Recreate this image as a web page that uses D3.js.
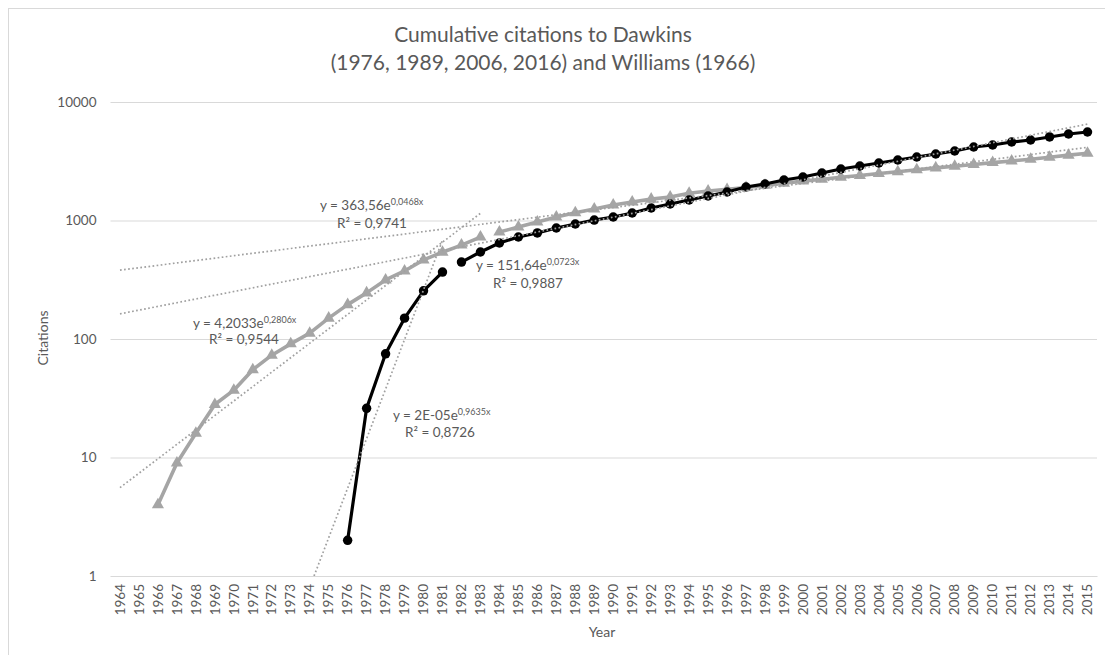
<!DOCTYPE html>
<html><head><meta charset="utf-8">
<script src="https://cdn.jsdelivr.net/npm/d3@7"></script>
<style>body{margin:0;background:#fff}svg{display:block}text{font-family:Lato,"Open Sans",sans-serif;fill:#595959}</style>
</head><body><svg id="c" width="1105" height="655"></svg>
<script>
const years = [1964,1965,1966,1967,1968,1969,1970,1971,1972,1973,1974,1975,1976,1977,1978,1979,1980,1981,1982,1983,1984,1985,1986,1987,1988,1989,1990,1991,1992,1993,1994,1995,1996,1997,1998,1999,2000,2001,2002,2003,2004,2005,2006,2007,2008,2009,2010,2011,2012,2013,2014,2015];
const yTicks = [1,10,100,1000,10000];

const williamsEarlyYears = [1966,1967,1968,1969,1970,1971,1972,1973,1974,1975,1976,1977,1978,1979,1980,1981,1982,1983];
const williamsEarly = [4,9,16,28,37,55,73,91,112,150,195,245,315,375,465,540,620,725];
const williamsLateYears = [1984,1985,1986,1987,1988,1989,1990,1991,1992,1993,1994,1995,1996,1997,1998,1999,2000,2001,2002,2003,2004,2005,2006,2007,2008,2009,2010,2011,2012,2013,2014,2015];
const williamsLate = [800,880,970,1070,1160,1250,1350,1430,1515,1580,1700,1775,1830,1900,1980,2060,2150,2230,2320,2400,2490,2580,2680,2780,2870,2970,3080,3180,3290,3420,3560,3700];
const dawkinsEarlyYears = [1976,1977,1978,1979,1980,1981];
const dawkinsEarly = [2,26,75,150,255,367];
const dawkinsLateYears = [1982,1983,1984,1985,1986,1987,1988,1989,1990,1991,1992,1993,1994,1995,1996,1997,1998,1999,2000,2001,2002,2003,2004,2005,2006,2007,2008,2009,2010,2011,2012,2013,2014,2015];
const dawkinsLate = [446,542,646,726,785,865,934,1009,1071,1157,1274,1378,1489,1610,1739,1918,2032,2198,2329,2515,2722,2884,3055,3239,3433,3640,3858,4170,4335,4597,4780,5070,5370,5580];

// exponential trendlines y = a*e^(b*x), x = 1-based category index
const trendA = [4.2033, 363.56, 2e-5, 151.64];
const trendB = [0.2806, 0.0468, 0.9635, 0.0723];
const trendFrom = [1, 1, 11, 1];
const trendTo = [20, 52, 18, 52];
const trendEq = ["y = 4,2033e", "y = 363,56e", "y = 2E-05e", "y = 151,64e"];
const trendExp = ["0,2806x", "0,0468x", "0,9635x", "0,0723x"];
const trendR2 = ["R² = 0,9544", "R² = 0,9741", "R² = 0,8726", "R² = 0,9887"];
const labelPos = [[193,328,209,344],[320,210,337,228],[393,420,405,437],[476,270,493,288]];

const svg = d3.select("#c");
const L = 110.5, R = 1097, T = 102, B = 576;
svg.append("rect").attr("x",8.5).attr("y",8.5).attr("width",1110).attr("height",660).attr("fill","#fff").attr("stroke","#d9d9d9");

const x = d3.scaleBand().domain(years).range([L,R]);
const bw = x.bandwidth();
const cx = yr => x(yr) + bw/2;
const xi = d3.scaleLinear().domain([0.5, years.length+0.5]).range([L,R]);
const y = d3.scaleLog().domain([1,10000]).range([B,T]);

// gridlines
const yAxis = d3.axisLeft(y).tickValues(yTicks).tickFormat(d3.format("d")).tickSize(-(R-L)).tickPadding(14);
const gy = svg.append("g").attr("transform",`translate(${L},0)`).call(yAxis);
gy.select(".domain").remove();
gy.selectAll(".tick line").attr("stroke","#d9d9d9").attr("stroke-width",1);
gy.selectAll(".tick text").attr("font-size",13.5).attr("fill","#595959").attr("font-family","Lato");

const xAxis = d3.axisBottom(x).tickSize(0).tickPadding(0);
const gx = svg.append("g").attr("transform",`translate(0,${B})`).call(xAxis);
gx.select(".domain").attr("stroke","#d9d9d9");
gx.selectAll(".tick text").attr("font-size",13.5).attr("fill","#595959").attr("font-family","Lato")
  .attr("transform","rotate(-90)").attr("text-anchor","end").attr("dy","0.35em").attr("x",-8).attr("y",0);

// series
const clip = svg.append("clipPath").attr("id","pc").append("rect").attr("x",L).attr("y",T-20).attr("width",R-L+10).attr("height",B-T+20);
function series(yrs, vals, color, sym, w){
  const pts = yrs.map((yr,i)=>[cx(yr), y(vals[i])]);
  svg.append("path").attr("d", d3.line()(pts)).attr("fill","none").attr("stroke",color).attr("stroke-width",w).attr("stroke-linejoin","round");
  svg.append("g").selectAll("path").data(pts).join("path")
    .attr("transform",d=>`translate(${d[0]},${d[1]})`)
    .attr("d", d3.symbol().type(sym).size(sym===d3.symbolCircle?70:64)())
    .attr("fill",color);
}
series(williamsEarlyYears, williamsEarly, "#a5a5a5", d3.symbolTriangle, 3.6);
series(williamsLateYears, williamsLate, "#a5a5a5", d3.symbolTriangle, 3.6);
series(dawkinsEarlyYears, dawkinsEarly, "#000", d3.symbolCircle, 3.2);
series(dawkinsLateYears, dawkinsLate, "#000", d3.symbolCircle, 3.2);

// trendlines
const tg = svg.append("g").attr("clip-path","url(#pc)");
trendA.forEach((a,i)=>{
  const b = trendB[i];
  let t0 = Math.max(trendFrom[i], Math.log(1/a)/b);
  const t1 = trendTo[i];
  const pts = [t0,t1].map(t=>[xi(t), y(a*Math.exp(b*t))]);
  tg.append("path").attr("d", d3.line()(pts)).attr("fill","none").attr("stroke","#a0a0a0")
    .attr("stroke-width",1.7).attr("stroke-dasharray","1.7,2.4");
  const p = labelPos[i];
  const t = svg.append("text").attr("x",p[0]).attr("y",p[1]).attr("font-size",13.5);
  t.append("tspan").text(trendEq[i]);
  t.append("tspan").attr("font-size",9).attr("dy",-5).text(trendExp[i]);
  svg.append("text").attr("x",p[2]).attr("y",p[3]).attr("font-size",13.5).text(trendR2[i]);
});

// titles
svg.append("text").attr("x",543).attr("y",42).attr("text-anchor","middle").attr("font-size",21).text("Cumulative citations to Dawkins");
svg.append("text").attr("x",543).attr("y",70).attr("text-anchor","middle").attr("font-size",21).text("(1976, 1989, 2006, 2016) and Williams (1966)");
svg.append("text").attr("x",602).attr("y",637).attr("text-anchor","middle").attr("font-size",14).text("Year");
svg.append("text").attr("transform","translate(48,338) rotate(-90)").attr("text-anchor","middle").attr("font-size",14).text("Citations");
</script></body></html>
